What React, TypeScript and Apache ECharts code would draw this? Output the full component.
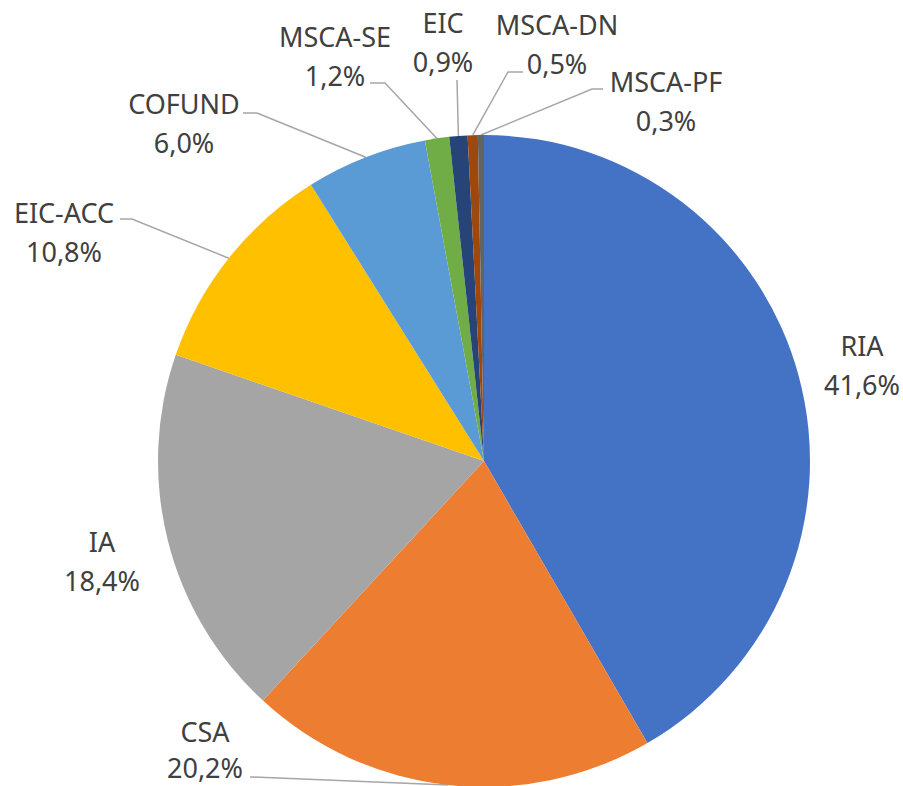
import React, { useEffect, useRef } from "react";
import * as echarts from "echarts";

const categories = ["RIA", "CSA", "IA", "EIC-ACC", "COFUND", "MSCA-SE", "EIC", "MSCA-DN", "MSCA-PF"];
const shares = [41.6, 20.2, 18.4, 10.8, 6.0, 1.2, 0.9, 0.5, 0.3];
const colors = ["#4472C4", "#ED7D31", "#A5A5A5", "#FFC000", "#5B9BD5", "#70AD47", "#264478", "#9E480E", "#636363"];

// label layout (centre of the two-line label block) and leader-line attachment
const labelCentres: number[][] = [
  [862, 365], [205, 749], [102, 561], [64, 232], [184, 123], [335, 56], [443, 42], [557, 44], [666, 101],
];
const labelLineHeights = [39, 36, 39, 39, 39, 39, 39, 39, 39];
// [elbow, end] of leader line (null = no leader line)
const leaderEnds: (number[][] | null)[] = [
  null,
  [[252, 777], [250, 777]],
  null,
  [[132, 219], [120, 219]],
  [[257, 113], [243, 113]],
  [[385, 83], [370, 83]],
  [[457, 80], [457, 80]],
  [[508, 72], [523, 72]],
  [[592, 89], [603, 89]],
];

const CX = 484;
const CY = 461;
const R = 326;

export default function App() {
  const ref = useRef<HTMLDivElement>(null);
  useEffect(() => {
    if (!ref.current) return;
    const chart = echarts.init(ref.current, null, { renderer: "svg" });
    const total = shares.reduce((a, b) => a + b, 0);
    const anchors: number[][] = [];
    let cum = 0;
    shares.forEach((v) => {
      const f = (cum + v / 2) / total;
      const th = f * Math.PI * 2;
      anchors.push([CX + R * Math.sin(th), CY - R * Math.cos(th)]);
      cum += v;
    });
    chart.setOption({
      animation: false,
      series: [
        {
          type: "pie",
          center: [CX, CY],
          radius: R,
          startAngle: 90,
          clockwise: true,
          avoidLabelOverlap: false,
          data: categories.map((c, i) => ({
            name: c,
            value: shares[i],
            itemStyle: { color: colors[i] },
            label: { lineHeight: labelLineHeights[i] },
            labelLine: { show: leaderEnds[i] != null },
          })),
          label: {
            show: true,
            position: "outside",
            formatter: (p: any) => `${p.name}\n${Number(p.value).toFixed(1).replace(".", ",")}%`,
            fontFamily: "Noto Sans",
            fontSize: 27,
            lineHeight: 39,
            color: "#404040",
            align: "center",
          },
          labelLine: {
            show: true,
            smooth: false,
            lineStyle: { color: "#A6A6A6", width: 1.5 },
          },
          labelLayout: (params: any) => {
            const i = params.dataIndex;
            const pos = labelCentres[i];
            const res: any = { x: pos[0], y: pos[1], align: "center", verticalAlign: "middle" };
            const le = leaderEnds[i];
            if (le) {
              res.labelLinePoints = [anchors[i], le[0], le[1]];
            }
            return res;
          },
        },
      ],
    });
    return () => chart.dispose();
  }, []);
  return (
    <div
      ref={ref}
      style={{ position: "fixed", left: 0, top: 0, width: 903, height: 786, background: "#fff" }}
    />
  );
}
